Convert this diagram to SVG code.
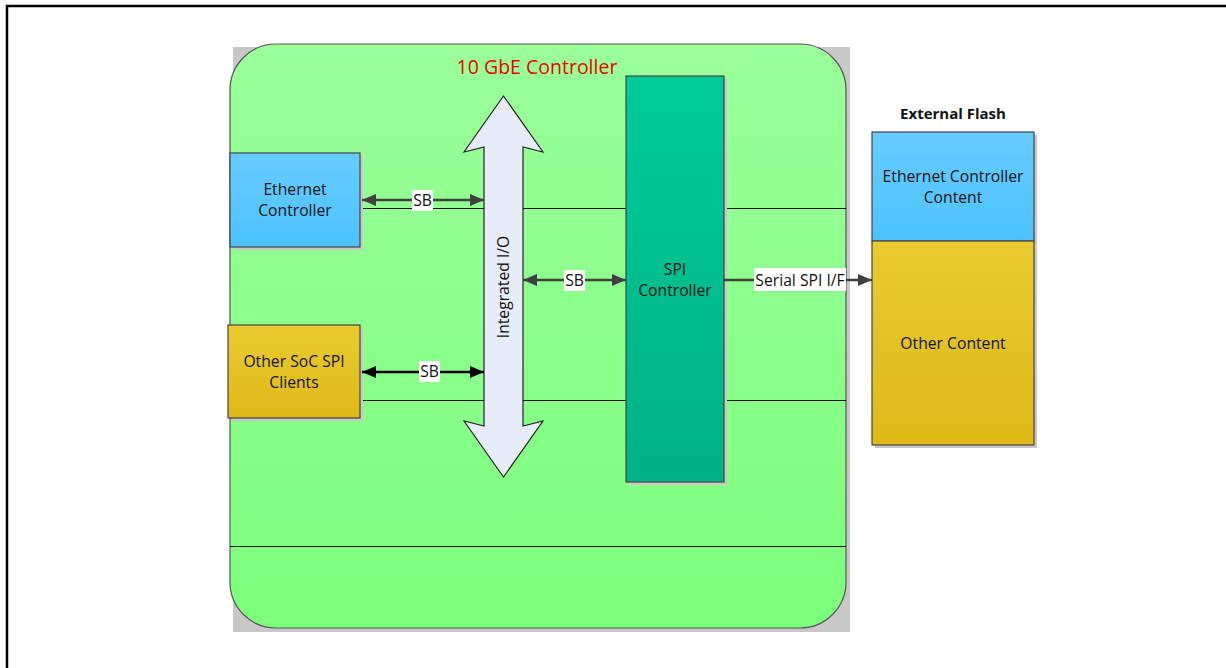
<svg xmlns="http://www.w3.org/2000/svg" width="1226" height="668" viewBox="0 0 1226 668">
<style>
text{font-family:"Open Sans","Liberation Sans",sans-serif;font-size:15.7px;fill:#111;text-anchor:middle}
.box{stroke:#444;stroke-width:1.2}
.shadow{fill:#c8c8c8}
.hl{stroke:#111;stroke-width:1}
.conn{stroke:#404040;stroke-width:2.5;fill:none}
.lbl{fill:#fff}
</style>
<defs>
<linearGradient id="gMain" x1="0" y1="0" x2="0" y2="1"><stop offset="0" stop-color="#9aff9a"/><stop offset="1" stop-color="#7cff7c"/></linearGradient>
<linearGradient id="gBlue" x1="0" y1="0" x2="0" y2="1"><stop offset="0" stop-color="#66ccff"/><stop offset="1" stop-color="#4cc2fd"/></linearGradient>
<linearGradient id="gGold" x1="0" y1="0" x2="0" y2="1"><stop offset="0" stop-color="#eacb2f"/><stop offset="1" stop-color="#dfb918"/></linearGradient>
<linearGradient id="gTeal" x1="0" y1="0" x2="0" y2="1"><stop offset="0" stop-color="#00cc99"/><stop offset="1" stop-color="#00b284"/></linearGradient>
<marker id="ah" viewBox="0 0 14 12" refX="14" refY="6" markerWidth="14" markerHeight="12" markerUnits="userSpaceOnUse" orient="auto-start-reverse"><path d="M0,0 L14,6 L0,12 Z" fill="#404040"/></marker>
<marker id="ahk" viewBox="0 0 14 12" refX="14" refY="6" markerWidth="14" markerHeight="12" markerUnits="userSpaceOnUse" orient="auto-start-reverse"><path d="M0,0 L14,6 L0,12 Z" fill="#000"/></marker>
</defs>
<rect width="1226" height="668" fill="#fff"/>
<path d="M7,668 V6 H1226" fill="none" stroke="#000" stroke-width="2.5"/>

<g id="gbe-controller">
<rect class="shadow" x="233" y="47" width="617" height="585"/>
<rect x="230" y="44" width="616" height="584" rx="46" ry="46" fill="url(#gMain)" stroke="#555" stroke-width="1.2"/>
<text x="537" y="74" style="fill:#ee0000;font-size:19.5px">10 GbE Controller</text>
<line class="hl" x1="362" y1="208.5" x2="846" y2="208.5"/>
<line class="hl" x1="362" y1="400.5" x2="846" y2="400.5"/>
<line class="hl" x1="230" y1="546.5" x2="846" y2="546.5"/>
</g>

<g id="ethernet-controller">
<rect class="shadow" x="233" y="156" width="130" height="94"/>
<rect class="box" x="230" y="153" width="130" height="94" fill="url(#gBlue)"/>
<text x="295" y="195">Ethernet</text>
<text x="295" y="216">Controller</text>
</g>

<g id="other-soc-spi-clients">
<rect class="shadow" x="231" y="328" width="132" height="93"/>
<rect class="box" x="228" y="325" width="132" height="93" fill="url(#gGold)"/>
<text x="294" y="367">Other SoC SPI</text>
<text x="294" y="388">Clients</text>
</g>

<g id="integrated-io">
<polygon points="503.5,96 543,152 523,147 523,426 543,421 503.5,477 464,421 484,426 484,147 464,152" fill="#e6edf8" stroke="#222" stroke-width="1.2"/>
<text transform="translate(509,287) rotate(-90)">Integrated I/O</text>
</g>

<g id="spi-controller">
<rect class="shadow" x="629" y="79" width="98" height="406"/>
<rect class="box" x="626" y="76" width="98" height="406" fill="url(#gTeal)"/>
<text x="675" y="275">SPI</text>
<text x="675" y="296">Controller</text>
</g>

<g id="external-flash">
<text x="953" y="119" style="font-weight:bold;font-size:15px">External Flash</text>
<rect class="shadow" x="875" y="135" width="162" height="313"/>
<rect class="box" x="872" y="132" width="162" height="109" fill="url(#gBlue)"/>
<rect class="box" x="872" y="241" width="162" height="204" fill="url(#gGold)"/>
<text x="953" y="182">Ethernet Controller</text>
<text x="953" y="203">Content</text>
<text x="953" y="349">Other Content</text>
</g>

<g id="connectors">
<line class="conn" x1="362" y1="200" x2="484" y2="200" marker-start="url(#ah)" marker-end="url(#ah)"/>
<rect class="lbl" x="412" y="190" width="21" height="21"/>
<text x="422.5" y="206">SB</text>
<line class="conn" x1="523" y1="280" x2="626" y2="280" marker-start="url(#ah)" marker-end="url(#ah)"/>
<rect class="lbl" x="564" y="270" width="21" height="21"/>
<text x="574.5" y="286">SB</text>
<line class="conn" x1="362" y1="372" x2="484" y2="372" marker-start="url(#ahk)" marker-end="url(#ahk)" style="stroke:#000"/>
<rect class="lbl" x="419" y="361" width="21" height="21"/>
<text x="429.5" y="377">SB</text>
<line class="conn" x1="724" y1="280" x2="872" y2="280" marker-end="url(#ah)"/>
<rect class="lbl" x="754" y="268" width="92" height="23"/>
<text x="800" y="286">Serial SPI I/F</text>
</g>
</svg>
